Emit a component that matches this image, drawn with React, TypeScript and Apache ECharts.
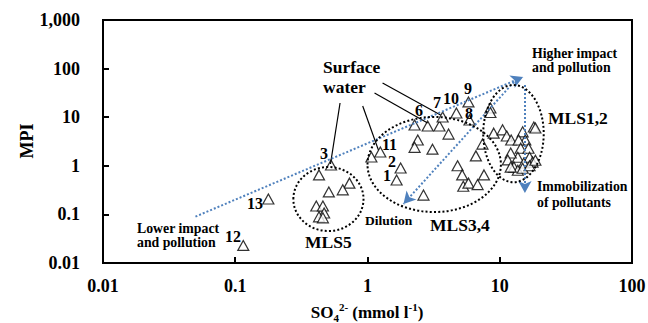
import React, { useEffect, useRef } from "react";
import * as echarts from "echarts";

const FONT = '"Liberation Serif", "Times New Roman", serif';

// Tick labels
const xTickLabels = ["0.01", "0.1", "1", "10", "100"];
const yTickLabels = ["0.01", "0.1", "1", "10", "100", "1,000"];

// Scatter values [SO4 (mmol/l), MPI]
const otherSites = [
  [0.178, 0.207], // 13
  [0.115, 0.023], // 12
];
const mls5 = [
  [0.53, 1.04], [0.43, 0.65], [0.73, 0.44], [0.65, 0.32], [0.51, 0.29],
  [0.41, 0.149], [0.46, 0.149], [0.47, 0.107], [0.43, 0.089], [0.46, 0.085],
];
const mls34 = [
  [1.07, 1.52], [1.25, 1.92], [1.78, 0.9], [1.66, 0.51], [2.27, 6.9],
  [2.85, 6.6], [3.5, 6.6], [4.1, 4.5], [3.7, 10.1], [4.7, 12.2],
  [5.9, 8.75], [5.8, 20.6], [2.4, 3.4], [2.27, 2.4], [3.1, 2.2],
  [4.8, 1.0], [5.2, 0.65], [5.3, 0.38], [5.8, 0.44], [6.8, 0.41],
  [7.6, 0.65], [6.6, 1.6], [7.4, 2.8], [2.65, 0.25],
];
const mls12 = [
  [8.5, 15.5], [8.5, 12.5], [9.0, 4.7], [10.5, 5.5], [11.3, 4.1],
  [12.2, 3.4], [14.9, 5.0], [18.1, 6.3], [18.6, 6.0], [15.6, 3.4],
  [13.9, 3.4], [14.4, 2.3], [16.5, 2.3], [13.7, 1.5], [16.8, 1.5],
  [15.2, 1.14], [17.7, 1.19], [12.1, 1.83], [11.5, 1.32], [12.8, 0.94],
  [13.7, 0.81], [14.9, 0.89], [16.8, 1.0], [18.6, 1.3], [12.1, 0.94],
];

// Annotation geometry in data units
const blueArrows = [
  [[0.05, 0.09], [15, 67]],
  [[12.8, 53], [1.87, 0.164]],
  [[15.5, 46], [15.5, 0.275]],
];
const surfaceLines = [
  [[0.62, 19.6], [0.525, 1.09]],
  [[0.92, 17], [1.21, 2.1]],
  [[1.13, 31.5], [2.85, 7.6]],
  [[1.3, 50.6], [3.57, 11.1]],
];
const ellipseBounds = [
  { x: [0.275, 0.933], y: [0.0455, 0.944] },
  { x: [1.0, 10.2], y: [0.112, 10.1] },
  { x: [7.5, 21.5], y: [0.46, 46] },
];

type Lbl = { t: string; x: number; y: number; s: number };
const texts: Lbl[] = [
  { t: "Surface", x: 323, y: 67, s: 17.5 },
  { t: "water", x: 323, y: 87, s: 17.5 },
  { t: "Higher impact", x: 532, y: 53, s: 13.8 },
  { t: "and pollution", x: 532, y: 67, s: 13.8 },
  { t: "MLS1,2", x: 548, y: 118, s: 17.5 },
  { t: "Immobilization", x: 537, y: 186, s: 13.8 },
  { t: "of pollutants", x: 537, y: 202, s: 13.8 },
  { t: "MLS3,4", x: 430, y: 225, s: 17.5 },
  { t: "Dilution", x: 365, y: 220, s: 13.5 },
  { t: "MLS5", x: 305, y: 242, s: 17.5 },
  { t: "Lower impact", x: 137, y: 228, s: 13.8 },
  { t: "and pollution", x: 137, y: 242, s: 13.8 },
  { t: "12", x: 225, y: 236, s: 16 },
  { t: "13", x: 247, y: 203, s: 16 },
  { t: "3", x: 320, y: 153, s: 16 },
  { t: "11", x: 382, y: 144, s: 16 },
  { t: "2", x: 388, y: 161, s: 16 },
  { t: "1", x: 383, y: 175, s: 16 },
  { t: "6", x: 415, y: 110, s: 16 },
  { t: "7", x: 433, y: 102, s: 16 },
  { t: "10", x: 443, y: 98, s: 16 },
  { t: "9", x: 464, y: 88, s: 16 },
  { t: "8", x: 465, y: 113, s: 16 },
];

const tickIdx = (v: number, base: number) => Math.round(Math.log10(v)) - base;

export default function App() {
  const ref = useRef<HTMLDivElement>(null);
  useEffect(() => {
    if (!ref.current) return;
    const chart = echarts.init(ref.current, null, { renderer: "svg" });
    const tri = {
      type: "scatter",
      symbol: "triangle",
      symbolSize: [11, 10],
      itemStyle: { color: "#fff", borderColor: "#000", borderWidth: 1.2 },
      emphasis: { disabled: true },
      silent: true,
      z: 4,
    };
    const axisCommon = {
      type: "log",
      logBase: 10,
      axisLine: { show: true, lineStyle: { color: "#000", width: 2 } },
      axisTick: { show: true, inside: true, length: 6, lineStyle: { color: "#000", width: 2 } },
      minorTick: { show: false },
      splitLine: { show: false },
    };
    chart.setOption({
      animation: false,
      backgroundColor: "#fff",
      grid: {
        left: 103, right: 16, top: 20, bottom: 60,
        outerBoundsMode: "none",
        containLabel: false,
        show: true, borderColor: "#000", borderWidth: 2, backgroundColor: "transparent",
      },
      xAxis: {
        ...axisCommon,
        min: 0.01,
        max: 100,
        axisLabel: {
          fontFamily: FONT, fontWeight: "bold", fontSize: 18, color: "#000", margin: 14,
          formatter: (v: number) => xTickLabels[tickIdx(v, -2)] ?? "",
        },
      },
      yAxis: {
        ...axisCommon,
        min: 0.01,
        max: 1000,
        axisLabel: {
          fontFamily: FONT, fontWeight: "bold", fontSize: 18, color: "#000", margin: 23,
          formatter: (v: number) => yTickLabels[tickIdx(v, -2)] ?? "",
        },
      },
      series: [
        { ...tri, name: "other", data: otherSites },
        { ...tri, name: "MLS5", data: mls5 },
        { ...tri, name: "MLS3,4", data: mls34 },
        { ...tri, name: "MLS1,2", data: mls12 },
        {
          type: "scatter",
          data: [],
          silent: true,
          z: 3,
          markLine: {
            silent: true,
            symbol: ["none", "none"],
            label: { show: false },
            lineStyle: { type: "solid", color: "#000", width: 1.2 },
            emphasis: { disabled: true },
            data: surfaceLines.map(([a, b]) => [{ coord: a }, { coord: b }]),
          },
        },
        {
          type: "scatter",
          data: [],
          silent: true,
          z: 3,
          markLine: {
            silent: true,
            symbol: ["none", "arrow"],
            symbolSize: [10, 12],
            label: { show: false },
            lineStyle: { type: [2, 2], color: "#4f81bd", width: 2, opacity: 1 },
            itemStyle: { color: "#4f81bd" },
            emphasis: { disabled: true },
            data: blueArrows.map(([a, b]) => [{ coord: a }, { coord: b }]),
          },
        },
      ],
    });

    const ells = ellipseBounds.map((b) => {
      const p1 = chart.convertToPixel({ gridIndex: 0 }, [b.x[0], b.y[0]]) as number[];
      const p2 = chart.convertToPixel({ gridIndex: 0 }, [b.x[1], b.y[1]]) as number[];
      return {
        type: "ellipse",
        silent: true,
        z: 5,
        shape: {
          cx: (p1[0] + p2[0]) / 2,
          cy: (p1[1] + p2[1]) / 2,
          rx: Math.abs(p2[0] - p1[0]) / 2,
          ry: Math.abs(p2[1] - p1[1]) / 2,
        },
        style: { fill: "none", stroke: "#000", lineWidth: 2, lineDash: [2, 2.2] },
      };
    });
    const txt = texts.map((l) => ({
      type: "text",
      silent: true,
      z: 6,
      x: l.x,
      y: l.y,
      style: {
        text: l.t,
        fill: "#000",
        fontFamily: FONT,
        fontWeight: "bold",
        fontSize: l.s,
        align: "left",
        textAlign: "left",
        verticalAlign: "middle",
        textVerticalAlign: "middle",
      },
    }));
    const bold = { fontFamily: FONT, fontWeight: "bold", fill: "#000" };
    const titles = [
      {
        type: "text",
        silent: true,
        z: 6,
        x: 27,
        y: 141,
        rotation: Math.PI / 2,
        style: { ...bold, text: "MPI", fontSize: 18, align: "center", verticalAlign: "middle", textAlign: "center", textVerticalAlign: "middle" },
      },
      {
        type: "text",
        silent: true,
        z: 6,
        x: 367,
        y: 312,
        style: {
          ...bold,
          text: "{a|SO}{s|4}{p|2-}{a| (mmol l}{p|-1}{a|)}",
          fontSize: 17,
          align: "center",
          verticalAlign: "middle",
          textAlign: "center",
          textVerticalAlign: "middle",
          rich: {
            a: { ...bold, fontSize: 17, lineHeight: 22, verticalAlign: "middle" },
            s: { ...bold, fontSize: 11, lineHeight: 11, verticalAlign: "bottom" },
            p: { ...bold, fontSize: 11, lineHeight: 11, verticalAlign: "top" },
          },
        },
      },
    ];
    chart.setOption({ graphic: [...ells, ...txt, ...titles] });
    return () => chart.dispose();
  }, []);
  return (
    <div
      ref={ref}
      style={{ position: "fixed", left: 0, top: 0, width: 648, height: 323, background: "#fff" }}
    />
  );
}
